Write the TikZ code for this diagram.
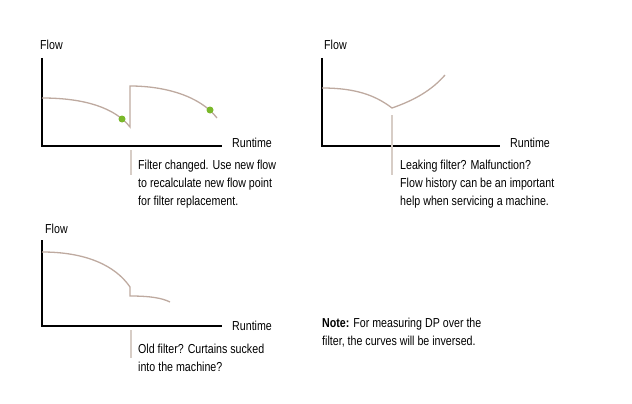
\documentclass[tikz,border=0pt]{standalone}
\usepackage{fontspec}
\setmainfont{Liberation Sans}[FakeStretch=0.82]
\definecolor{curvecol}{RGB}{190,170,160}
\definecolor{dotcol}{RGB}{122,184,42}
\definecolor{leadcol}{RGB}{215,205,198}
\tikzset{
  axisline/.style={line width=1.4pt, black},
  flowcurve/.style={curvecol, line width=1.3pt},
  leader/.style={leadcol, line width=1.2pt},
  lbl/.style={font=\fontsize{13}{18}\selectfont, inner sep=0pt},
  note/.style={lbl, anchor=north west, align=left},
}
\begin{document}
\begin{tikzpicture}[x=1pt,y=-1pt]
\useasboundingbox (0,0) rectangle (632,404);
% first chart
\draw[axisline] (42,58)--(42,146)--(222,146);
\node[lbl, anchor=base west] (f1) at (40,50) {Flow};
\node[lbl, anchor=base west] (r1) at (232,147) {Runtime};
\draw[flowcurve] (42,98) .. controls (85,98) and (115,108) .. (130,127) -- (130,86)
  .. controls (165,86) and (200,96) .. (217,118);
\fill[dotcol] (122,119) circle (3.5);
\fill[dotcol] (210,110) circle (3.5);
\coordinate (l1a) at (131,150);
\coordinate (l1b) at (131,175);
\draw[leader] (l1a)--(l1b);
\node[note] (t1) at (138,160) {Filter changed. Use new flow\\to recalculate new flow point\\for filter replacement.};
% second chart
\draw[axisline] (322,58)--(322,146)--(500,146);
\node[lbl, anchor=base west] (f2) at (324,50) {Flow};
\node[lbl, anchor=base west] (r2) at (510,147) {Runtime};
\draw[flowcurve] (322,88) .. controls (355,88) and (375,95) .. (392,108)
  .. controls (415,100) and (432,90) .. (445,75);
\coordinate (l2a) at (392,115);
\coordinate (l2b) at (392,175);
\draw[leader] (l2a)--(l2b);
\node[note] (t2) at (400,160) {Leaking filter? Malfunction?\\Flow history can be an important\\help when servicing a machine.};
% third chart
\draw[axisline] (42,240)--(42,326)--(222,326);
\node[lbl, anchor=base west] (f3) at (45,233) {Flow};
\node[lbl, anchor=base west] (r3) at (232,330) {Runtime};
\draw[flowcurve] (42,252) .. controls (85,252) and (115,265) .. (130,287) -- (130,296)
  .. controls (150,296) and (162,298) .. (170,302);
\coordinate (l3a) at (131,330);
\coordinate (l3b) at (131,358);
\draw[leader] (l3a)--(l3b);
\node[note] (t3) at (138,344) {Old filter? Curtains sucked\\into the machine?};
% note
\node[note] (n1) at (322,318) {\textbf{Note:} For measuring DP over the\\filter, the curves will be inversed.};
\end{tikzpicture}
\end{document}
